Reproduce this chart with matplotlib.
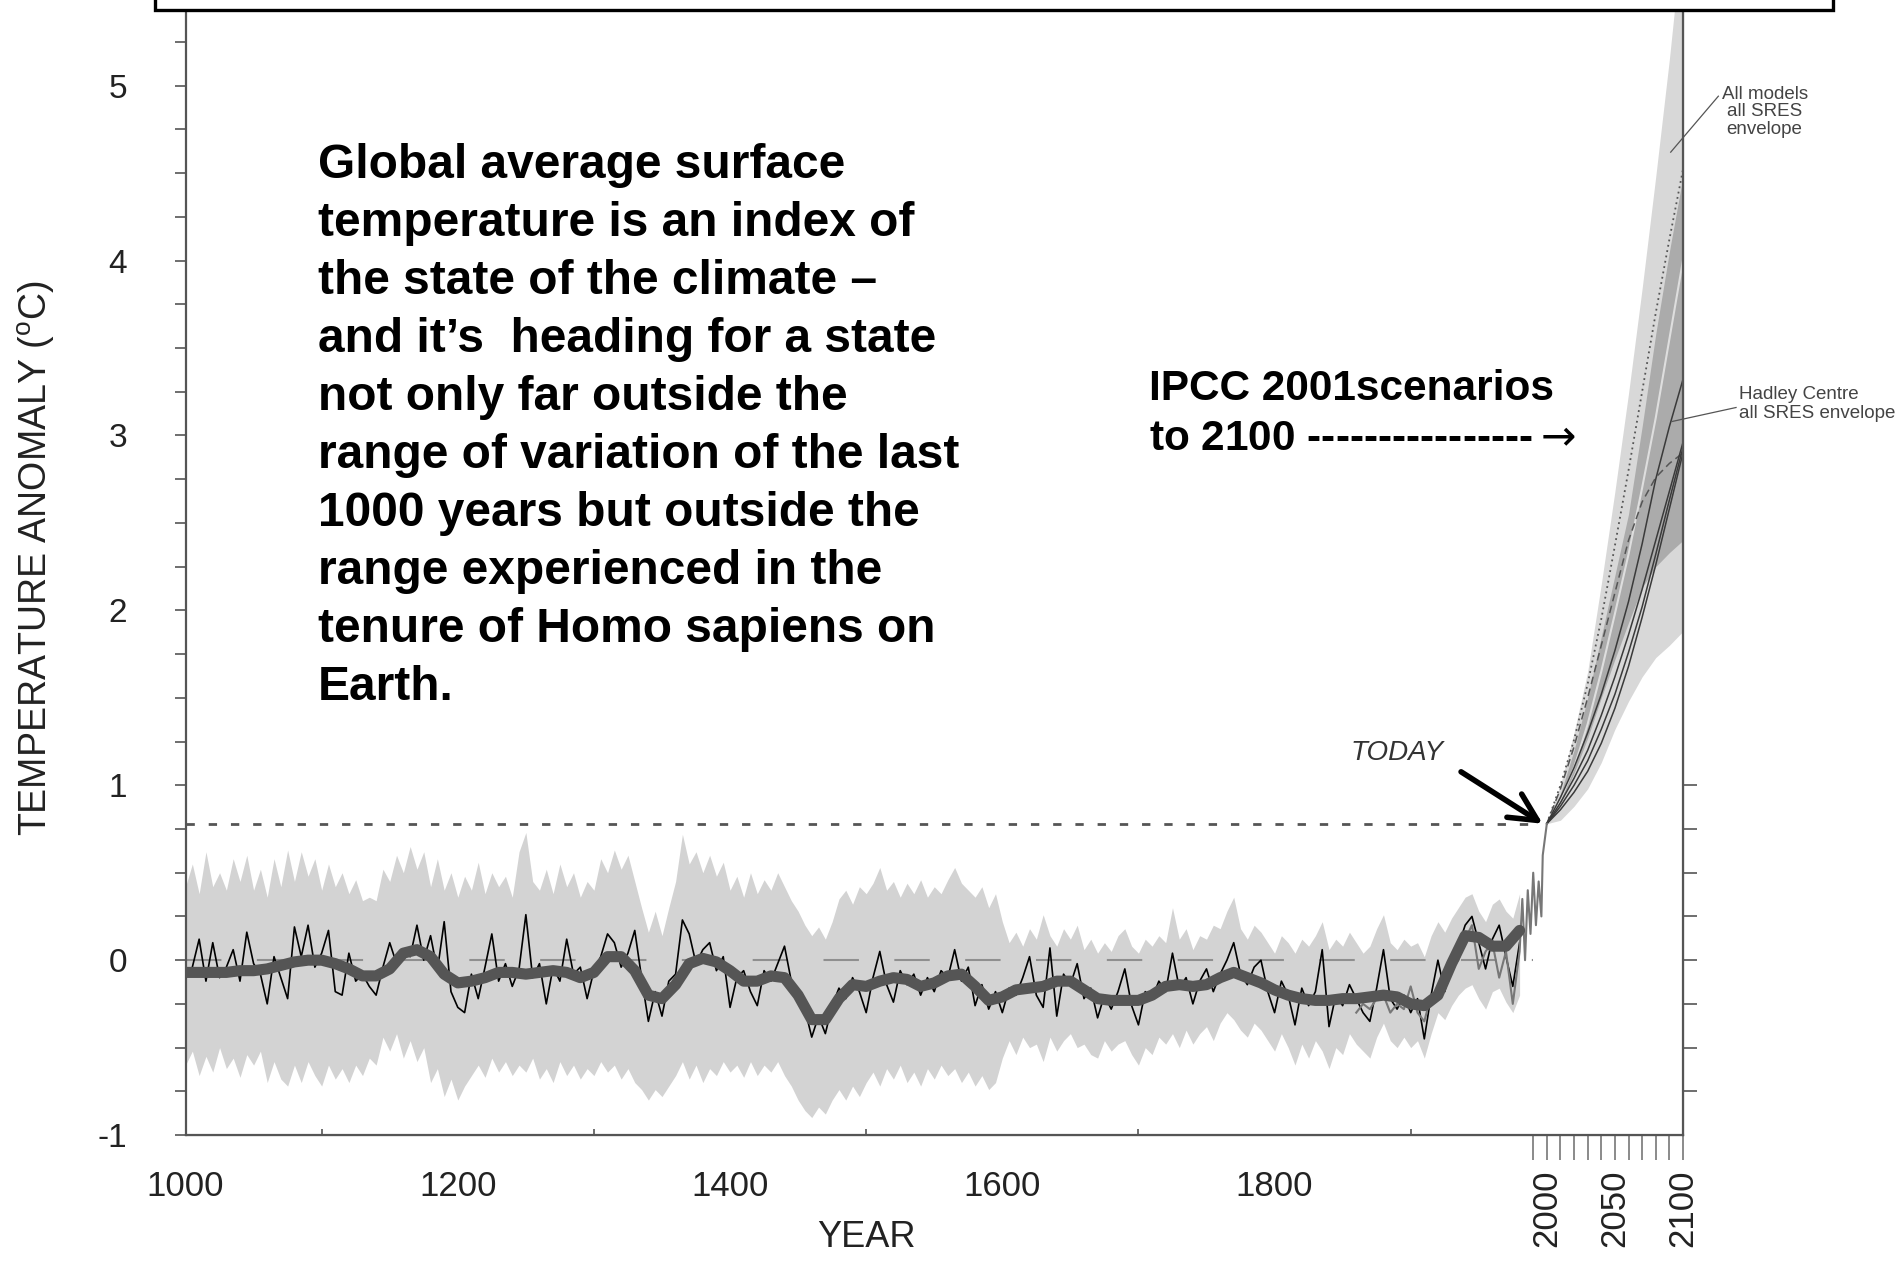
import numpy as np
import matplotlib.pyplot as plt
from matplotlib.patches import Rectangle
from matplotlib.transforms import blended_transform_factory

plt.rcParams['font.family'] = ['Liberation Sans', 'DejaVu Sans']
plt.rcParams['mathtext.fontset'] = 'custom'
plt.rcParams['mathtext.rm'] = 'Liberation Sans'

# reconstruction 1000-1980, one value every 5 years
recon_start, recon_step = 1000, 5
band_upper = [
    0.42, 0.55, 0.38, 0.62, 0.42, 0.50, 0.40, 0.58, 0.45, 0.60, 0.40, 0.52,
    0.36, 0.58, 0.42, 0.63, 0.45, 0.62, 0.48, 0.58, 0.40, 0.55, 0.42, 0.50,
    0.38, 0.46, 0.34, 0.36, 0.34, 0.52, 0.45, 0.60, 0.50, 0.65, 0.52, 0.62,
    0.42, 0.58, 0.40, 0.50, 0.36, 0.48, 0.40, 0.56, 0.38, 0.50, 0.42, 0.48,
    0.36, 0.62, 0.73, 0.45, 0.40, 0.52, 0.38, 0.55, 0.42, 0.50, 0.36, 0.45,
    0.40, 0.58, 0.50, 0.63, 0.52, 0.60, 0.45, 0.30, 0.16, 0.28, 0.14, 0.30,
    0.45, 0.72, 0.55, 0.62, 0.50, 0.60, 0.48, 0.56, 0.40, 0.48, 0.36, 0.50,
    0.38, 0.46, 0.40, 0.50, 0.42, 0.34, 0.28, 0.20, 0.14, 0.19, 0.12, 0.22,
    0.35, 0.40, 0.32, 0.42, 0.38, 0.44, 0.53, 0.40, 0.45, 0.36, 0.44, 0.38,
    0.46, 0.36, 0.42, 0.38, 0.46, 0.53, 0.44, 0.40, 0.36, 0.42, 0.30, 0.38,
    0.22, 0.10, 0.16, 0.08, 0.18, 0.12, 0.26, 0.14, 0.08, 0.18, 0.12, 0.20,
    0.06, 0.12, 0.04, 0.10, 0.05, 0.14, 0.18, 0.08, 0.04, 0.12, 0.08, 0.14,
    0.10, 0.30, 0.12, 0.18, 0.06, 0.14, 0.12, 0.20, 0.18, 0.28, 0.36, 0.18,
    0.12, 0.20, 0.16, 0.10, 0.04, 0.14, 0.10, 0.04, 0.12, 0.08, 0.14, 0.22,
    0.06, 0.12, 0.08, 0.16, 0.10, 0.04, 0.08, 0.18, 0.26, 0.10, 0.06, 0.12,
    0.08, 0.10, 0.02, 0.14, 0.22, 0.16, 0.24, 0.30, 0.36, 0.38, 0.28, 0.22,
    0.32, 0.35, 0.28, 0.24, 0.38]
band_lower = [
    -0.60, -0.52, -0.66, -0.55, -0.64, -0.50, -0.62, -0.56, -0.67, -0.54, -0.60, -0.52,
    -0.70, -0.58, -0.68, -0.72, -0.60, -0.70, -0.58, -0.66, -0.72, -0.60, -0.68, -0.62,
    -0.70, -0.60, -0.66, -0.56, -0.60, -0.44, -0.52, -0.42, -0.56, -0.46, -0.58, -0.50,
    -0.70, -0.62, -0.78, -0.68, -0.80, -0.72, -0.66, -0.60, -0.67, -0.56, -0.64, -0.58,
    -0.66, -0.60, -0.64, -0.56, -0.68, -0.62, -0.70, -0.58, -0.66, -0.60, -0.68, -0.62,
    -0.66, -0.58, -0.64, -0.60, -0.68, -0.62, -0.70, -0.74, -0.80, -0.74, -0.78, -0.72,
    -0.66, -0.58, -0.68, -0.60, -0.70, -0.62, -0.66, -0.58, -0.64, -0.60, -0.67, -0.58,
    -0.66, -0.60, -0.64, -0.58, -0.66, -0.72, -0.80, -0.86, -0.90, -0.84, -0.88, -0.80,
    -0.74, -0.80, -0.72, -0.78, -0.70, -0.64, -0.72, -0.62, -0.68, -0.60, -0.70, -0.64,
    -0.72, -0.62, -0.68, -0.60, -0.66, -0.62, -0.70, -0.64, -0.72, -0.66, -0.74, -0.70,
    -0.56, -0.46, -0.54, -0.44, -0.50, -0.48, -0.58, -0.44, -0.52, -0.46, -0.42, -0.50,
    -0.48, -0.54, -0.56, -0.46, -0.52, -0.48, -0.46, -0.54, -0.60, -0.50, -0.54, -0.44,
    -0.48, -0.42, -0.50, -0.40, -0.48, -0.42, -0.38, -0.46, -0.36, -0.30, -0.34, -0.40,
    -0.44, -0.36, -0.40, -0.46, -0.52, -0.42, -0.50, -0.60, -0.48, -0.56, -0.46, -0.52,
    -0.62, -0.50, -0.54, -0.42, -0.48, -0.52, -0.56, -0.44, -0.36, -0.46, -0.50, -0.44,
    -0.50, -0.46, -0.56, -0.42, -0.30, -0.34, -0.26, -0.20, -0.16, -0.14, -0.22, -0.28,
    -0.18, -0.16, -0.24, -0.30, -0.20]
annual = [
    -0.10, -0.04, 0.12, -0.12, 0.10, -0.10, -0.04, 0.06, -0.12, 0.16, -0.02, -0.08,
    -0.25, 0.02, -0.10, -0.22, 0.19, 0.02, 0.20, -0.04, 0.04, 0.17, -0.18, -0.20,
    0.04, -0.12, -0.08, -0.15, -0.20, -0.04, 0.10, -0.02, 0.06, 0.02, 0.20, 0.00,
    0.14, -0.06, 0.22, -0.18, -0.27, -0.30, -0.08, -0.22, -0.04, 0.15, -0.12, -0.02,
    -0.15, -0.05, 0.26, -0.10, -0.02, -0.25, -0.04, -0.12, 0.12, -0.08, -0.04, -0.22,
    -0.06, 0.02, 0.15, 0.10, -0.04, 0.04, 0.17, -0.10, -0.35, -0.18, -0.32, -0.12,
    -0.08, 0.23, 0.15, -0.02, 0.06, 0.10, -0.06, 0.02, -0.27, -0.10, -0.06, -0.18,
    -0.26, -0.06, -0.12, -0.02, 0.08, -0.12, -0.18, -0.28, -0.44, -0.32, -0.42, -0.26,
    -0.16, -0.22, -0.10, -0.18, -0.30, -0.10, 0.05, -0.14, -0.24, -0.06, -0.14, -0.08,
    -0.20, -0.10, -0.18, -0.06, -0.10, 0.06, -0.12, -0.04, -0.26, -0.14, -0.28, -0.18,
    -0.30, -0.16, -0.20, -0.10, 0.02, -0.20, -0.27, 0.07, -0.32, -0.08, -0.14, -0.02,
    -0.22, -0.16, -0.33, -0.20, -0.28, -0.18, -0.05, -0.26, -0.37, -0.18, -0.22, -0.12,
    -0.18, 0.04, -0.16, -0.10, -0.25, -0.12, -0.05, -0.18, -0.08, 0.00, 0.10, -0.08,
    -0.14, -0.04, 0.00, -0.18, -0.30, -0.12, -0.20, -0.37, -0.16, -0.26, -0.18, 0.06,
    -0.38, -0.20, -0.26, -0.14, -0.22, -0.30, -0.35, -0.16, 0.06, -0.22, -0.28, -0.20,
    -0.30, -0.22, -0.45, -0.20, 0.00, -0.18, -0.02, 0.08, 0.20, 0.25, 0.10, -0.05,
    0.12, 0.20, 0.02, -0.15, 0.10]
# smoothed curve, every 10 years 1000-1980
smooth_step = 10
smooth = [
    -0.07, -0.07, -0.07, -0.07, -0.06, -0.06, -0.05, -0.03, -0.01, 0.00,
    0.00, -0.02, -0.05, -0.09, -0.09, -0.05, 0.04, 0.06, 0.02, -0.08,
    -0.13, -0.12, -0.10, -0.07, -0.07, -0.08, -0.07, -0.06, -0.07, -0.10,
    -0.07, 0.02, 0.02, -0.06, -0.20, -0.22, -0.14, -0.02, 0.01, -0.01,
    -0.06, -0.12, -0.12, -0.09, -0.10, -0.20, -0.34, -0.34, -0.22, -0.14,
    -0.15, -0.12, -0.10, -0.11, -0.15, -0.13, -0.09, -0.08, -0.15, -0.23,
    -0.21, -0.17, -0.16, -0.15, -0.12, -0.12, -0.17, -0.22, -0.23, -0.23,
    -0.23, -0.20, -0.15, -0.14, -0.15, -0.14, -0.10, -0.07, -0.10, -0.13,
    -0.17, -0.20, -0.22, -0.23, -0.23, -0.22, -0.22, -0.21, -0.20, -0.21,
    -0.25, -0.26, -0.20, -0.02, 0.14, 0.13, 0.08, 0.08, 0.17]

# instrumental record
inst_years = [1860, 1865, 1870, 1875, 1880, 1885, 1890, 1895, 1900, 1905, 1910,
              1915, 1920, 1925, 1930, 1935, 1940, 1945, 1950, 1955, 1960, 1965,
              1970, 1975, 1980, 1982, 1984, 1986, 1988, 1990, 1992, 1994, 1996,
              1997, 2000]
inst_vals = [-0.30, -0.25, -0.28, -0.22, -0.20, -0.30, -0.25, -0.28, -0.15, -0.30,
             -0.35, -0.20, -0.18, -0.12, -0.05, 0.00, 0.12, 0.20, -0.05, 0.05,
             0.10, -0.10, 0.05, -0.25, 0.05, 0.35, 0.00, 0.40, 0.15, 0.50, 0.20,
             0.45, 0.25, 0.60, 0.78]
today_level = 0.78

# IPCC 2001 projections
proj_years = [2000, 2010, 2020, 2030, 2040, 2050, 2060, 2070, 2080, 2090, 2100]
all_hi = [0.78, 1.00, 1.30, 1.65, 2.15, 2.68, 3.24, 3.84, 4.48, 5.15, 5.90]
all_lo = [0.78, 0.80, 0.88, 0.98, 1.13, 1.32, 1.48, 1.62, 1.73, 1.80, 1.88]
had_hi = [0.78, 0.95, 1.20, 1.50, 1.85, 2.20, 2.55, 3.05, 3.58, 4.05, 4.48]
had_lo = [0.78, 0.90, 1.07, 1.27, 1.50, 1.72, 1.93, 2.13, 2.25, 2.33, 2.40]
scen_dotted = [0.78, 1.00, 1.26, 1.58, 1.95, 2.37, 2.80, 3.25, 3.70, 4.12, 4.52]
scen_light = [0.78, 0.92, 1.10, 1.35, 1.65, 1.98, 2.32, 2.70, 3.10, 3.55, 4.00]
scen_dashed = [0.78, 0.98, 1.22, 1.50, 1.80, 2.10, 2.40, 2.62, 2.76, 2.84, 2.90]
scen_solid = [
    [0.78, 0.93, 1.10, 1.30, 1.52, 1.77, 2.05, 2.38, 2.75, 3.05, 3.32],
    [0.78, 0.90, 1.04, 1.20, 1.40, 1.62, 1.86, 2.12, 2.40, 2.68, 2.96],
    [0.78, 0.88, 1.00, 1.14, 1.32, 1.52, 1.76, 2.02, 2.32, 2.63, 2.93],
    [0.78, 0.86, 0.96, 1.08, 1.24, 1.44, 1.68, 1.96, 2.26, 2.58, 2.90],
]

y_ticks = [-1, 0, 1, 2, 3, 4, 5]
x_ticks = [1000, 1200, 1400, 1600, 1800, 2000, 2050, 2100]
x_labels = ['1000', '1200', '1400', '1600', '1800', '2000', '2050', '2100']

main_text = ("Global average surface\n"
             "temperature is an index of\n"
             "the state of the climate \u2013\n"
             "and it\u2019s  heading for a state\n"
             "not only far outside the\n"
             "range of variation of the last\n"
             "1000 years but outside the\n"
             "range experienced in the\n"
             "tenure of Homo sapiens on\n"
             "Earth.")
ipcc_text = "IPCC 2001scenarios\nto 2100 ----------------$\\rightarrow$"

years5 = recon_start + recon_step * np.arange(len(band_upper))
years_ann = recon_start + recon_step * np.arange(len(annual))
years_sm = recon_start + smooth_step * np.arange(len(smooth))

fig = plt.figure(figsize=(19.01, 12.63), dpi=100)
ax = fig.add_axes([0.0976, 0.1013, 0.7877, 0.8987])
ax.set_xlim(1000, 2100)
ax.set_ylim(-1, 5.49)

# reconstruction
ax.fill_between(years5, band_lower, band_upper, color='#d3d3d3', lw=0, zorder=1)
ax.hlines(0, 1000, 1990, colors='#8f8f8f', lw=1.5,
          linestyles=(0, (17, 17)), zorder=2)
ax.plot(years_ann, annual, color='black', lw=1.2, zorder=3)
ax.plot(inst_years, inst_vals, color='#777777', lw=1.5, zorder=3)
ax.plot(years_sm, smooth, color='#555555', lw=8, solid_joinstyle='round',
        solid_capstyle='round', zorder=4)
ax.hlines(today_level, 1000, 1990, colors='#555555', lw=2,
          linestyles=(0, (3, 5)), zorder=2)

# projections
ax.fill_between(proj_years, all_lo, all_hi, color='#d8d8d8', lw=0, zorder=1)
ax.fill_between(proj_years, had_lo, had_hi, color='#ababab', lw=0, zorder=1)
ax.plot(proj_years, scen_light, color='#dedede', lw=1.5, zorder=2)
ax.plot(proj_years, scen_dotted, color='#555555', lw=1.3, ls=(0, (1, 2)), zorder=2)
ax.plot(proj_years, scen_dashed, color='#555555', lw=1.1, ls=(0, (5, 3)), zorder=2)
for s in scen_solid:
    ax.plot(proj_years, s, color='#3a3a3a', lw=1.1, zorder=2)

# axes styling
for side in ['left', 'bottom', 'right']:
    ax.spines[side].set_color('#555555')
    ax.spines[side].set_linewidth(1.6)
ax.spines['top'].set_visible(False)

ax.set_yticks(y_ticks)
ax.set_yticklabels([str(t) for t in y_ticks])
ax.set_yticks(np.arange(-1, 5.3, 0.25), minor=True)
ax.tick_params(axis='y', which='both', direction='out', length=8, width=1.2,
               color='#555555', pad=34, labelsize=24, labelcolor='#222222')

ax.set_xticks(x_ticks)
ax.set_xticklabels(x_labels)
ax.set_xticks(np.arange(1100, 2000, 100), minor=True)
ax.tick_params(axis='x', which='major', length=0, pad=25, labelsize=25,
               labelcolor='#222222')
ax.tick_params(axis='x', which='minor', direction='in', length=4, width=1.2,
               color='#555555')
for lbl in ax.get_xticklabels()[5:]:
    lbl.set_rotation(90)

secx = ax.secondary_xaxis('bottom')
secx.set_xticks(np.arange(1990, 2101, 10))
secx.tick_params(direction='out', length=18, width=1.2, color='#777777',
                 labelbottom=False)
secx.spines['bottom'].set_color('#555555')

secy = ax.secondary_yaxis('right')
secy.set_yticks(np.arange(-0.75, 1.01, 0.25))
secy.tick_params(direction='out', length=10, width=1.2, color='#555555',
                 labelright=False)
secy.spines['right'].set_color('#555555')

trans = blended_transform_factory(ax.transData, ax.transAxes)
ax.text(1500, -0.09, 'YEAR', transform=trans, ha='center', va='center',
        fontsize=26, color='#222222')
fig.text(36 / 1901, 0.558, r'TEMPERATURE ANOMALY ($^{\mathrm{o}}$C)',
         rotation=90, ha='center', va='center', fontsize=27, color='#222222')

# annotations
ax.annotate('', xy=(1997, today_level), xytext=(1937, 1.077),
            arrowprops=dict(arrowstyle='->, head_length=0.9, head_width=0.45',
                            lw=4, color='black', shrinkA=0, shrinkB=0,
                            mutation_scale=22), zorder=6)
ax.text(1890, 1.185, 'TODAY', style='italic', ha='center', va='center',
        fontsize=20, color='#333333')

ax.text(1097, 4.67, main_text, ha='left', va='top', fontsize=34.5,
        fontweight='bold', linespacing=1.37, zorder=7)
ax.text(1708, 3.38, ipcc_text, ha='left', va='top', fontsize=30.5,
        fontweight='bold', linespacing=1.31, zorder=7,
        math_fontfamily='dejavusans')

ax.plot([2091, 2126], [4.62, 4.94], color='#555555', lw=0.9, clip_on=False)
ax.text(2160, 4.85, 'All models\nall SRES\nenvelope', ha='center', va='center',
        fontsize=13.5, color='#444444', linespacing=1.05, clip_on=False)
ax.plot([2092, 2139], [3.08, 3.16], color='#555555', lw=0.9, clip_on=False)
ax.text(2141, 3.18, 'Hadley Centre\nall SRES envelope', ha='left', va='center',
        fontsize=13.5, color='#444444', linespacing=1.1, clip_on=False)

# frame of the title box cut off at the top
fig.add_artist(Rectangle((155 / 1901, 1 - 10 / 1263), (1833 - 155) / 1901, 0.1,
                         transform=fig.transFigure, facecolor='white',
                         edgecolor='black', lw=2.4, clip_on=False, zorder=10))

fig.savefig('out.png', dpi=100)
